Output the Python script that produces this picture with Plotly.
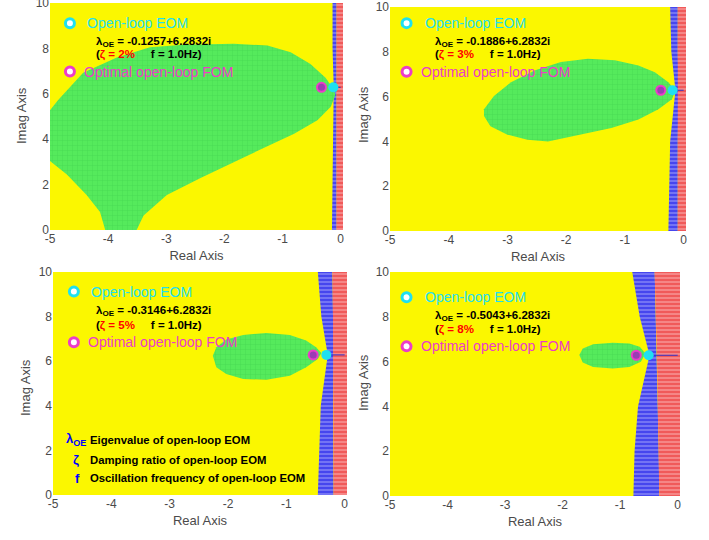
import plotly.graph_objects as go

# ------------------------------------------------------------------ data
eom_real = [-0.1257, -0.1886, -0.3146, -0.5043]
eom_imag = 6.2832
zeta_labels = ["2%", "3%", "5%", "8%"]
freq_label = "1.0Hz"
fom_real = [-0.33, -0.39, -0.54, -0.72]

x_tick_vals = [-5, -4, -3, -2, -1, 0]
x_tick_text = ["-5", "-4", "-3", "-2", "-1", "0"]
y_tick_vals = [0, 2, 4, 6, 8, 10]
y_tick_text = ["0", "2", "4", "6", "8", "10"]

# green (optimal) region boundaries
tl_green_x = [-5.0, -4.86, -4.43, -3.85, -3.28, -2.70, -1.84, -1.26, -0.86, -0.52, -0.26, -0.115, -0.09,
              -0.17, -0.40, -0.80, -1.55, -2.41, -2.99, -3.39, -3.51, -4.05, -4.14, -4.37, -4.71, -5.0]
tl_green_y = [5.28, 5.73, 6.93, 7.60, 8.05, 8.16, 8.20, 8.13, 7.83, 7.31, 6.71, 6.18, 5.96,
              5.43, 4.84, 4.24, 3.34, 2.29, 1.54, 0.64, 0.0, 0.0, 0.79, 1.54, 2.44, 3.04]
tr_green_x = [-3.40, -3.23, -2.94, -2.54, -2.09, -1.63, -1.17, -0.77, -0.49, -0.26, -0.14,
              -0.20, -0.43, -0.77, -1.23, -1.80, -2.31, -2.66, -3.00, -3.29, -3.40]
tr_green_y = [5.43, 6.03, 6.64, 7.16, 7.54, 7.69, 7.62, 7.39, 7.09, 6.64, 6.26,
              5.88, 5.43, 4.98, 4.60, 4.30, 4.00, 4.07, 4.30, 4.68, 5.13]
bl_green_x = [-2.26, -2.20, -2.03, -1.74, -1.34, -0.94, -0.66, -0.49, -0.40,
              -0.46, -0.66, -0.94, -1.34, -1.74, -2.03, -2.20]
bl_green_y = [6.25, 6.63, 6.97, 7.18, 7.27, 7.18, 6.93, 6.63, 6.37,
              6.10, 5.73, 5.35, 5.17, 5.20, 5.43, 5.73]
br_green_x = [-1.71, -1.65, -1.47, -1.13, -0.84, -0.66, -0.56, -0.64, -0.84, -1.13, -1.47, -1.65]
br_green_y = [6.29, 6.59, 6.77, 6.84, 6.81, 6.66, 6.36, 5.99, 5.76, 5.69, 5.76, 5.96]

# unstable-side bands (blue / red) left edges at these imag values
band_y = [0.0, 2.0, 4.0, 6.2832, 8.0, 10.0]
tl_blue_left = [-0.15, -0.14, -0.14, -0.12, -0.14, -0.14]
tl_red_left = [-0.07, -0.07, -0.07, -0.06, -0.07, -0.07]
tr_blue_left = [-0.26, -0.25, -0.23, -0.14, -0.21, -0.23]
tr_red_left = [-0.10, -0.10, -0.10, -0.09, -0.10, -0.10]
bl_blue_left = [-0.46, -0.44, -0.41, -0.29, -0.40, -0.46]
bl_red_left = [-0.19, -0.19, -0.20, -0.19, -0.20, -0.21]
br_blue_left = [-0.77, -0.75, -0.69, -0.49, -0.66, -0.79]
br_red_left = [-0.32, -0.33, -0.35, -0.36, -0.38, -0.40]

green_x = [tl_green_x, tr_green_x, bl_green_x, br_green_x]
green_y = [tl_green_y, tr_green_y, bl_green_y, br_green_y]
blue_left = [tl_blue_left, tr_blue_left, bl_blue_left, br_blue_left]
red_left = [tl_red_left, tr_red_left, bl_red_left, br_red_left]

legend_symbols = ["λ<sub>OE</sub>", "ζ", "f"]
legend_texts = ["Eigenvalue of open-loop EOM", "Damping ratio of open-loop EOM",
                "Oscillation frequency of open-loop EOM"]

# ------------------------------------------------------------------ style
X_MIN, X_MAX = -5, 0.04
Y_MIN, Y_MAX = 0, 10
FONT = "Liberation Sans, Arial, sans-serif"
YELLOW = "#fbf700"
CYAN = "#1fe0f0"
MAGENTA = "#ec3cc8"
GRAY = "#4a4a4a"
W, H = 709, 540

# panel pixel boxes: (left, right, top, bottom)
boxes = [(50, 343, 3, 230), (390, 686, 7, 231), (53, 347, 272, 495), (390, 680, 272, 496)]
# y-title centres (pixels)
ytitle_px = [(22, 116), (363, 115), (25, 388), (363, 383)]
# text block positions (domain fractions): marker x, eom text x, value-lines x, fom text x, row ys
txt_pos = [
    dict(mx=0.068, tx=0.119, lx=0.150, fx=0.109, y=[0.911, 0.828, 0.771, 0.698]),
    dict(mx=0.056, tx=0.112, lx=0.146, fx=0.099, y=[0.928, 0.845, 0.786, 0.711]),
    dict(mx=0.071, tx=0.124, lx=0.141, fx=0.112, y=[0.912, 0.826, 0.762, 0.685]),
    dict(mx=0.057, tx=0.115, lx=0.149, fx=0.101, y=[0.887, 0.804, 0.744, 0.668]),
]

fig = go.Figure()
layout = dict(width=W, height=H, margin=dict(l=0, r=0, t=0, b=0, autoexpand=False),
              paper_bgcolor="white", plot_bgcolor=YELLOW, showlegend=False,
              font=dict(family=FONT))
annotations = []
shapes = []

for i in range(4):
    sfx = "" if i == 0 else str(i + 1)
    xa, ya = "x" + sfx, "y" + sfx
    L, R, T, B = boxes[i]
    layout["xaxis" + sfx] = dict(
        domain=[L / W, R / W], range=[X_MIN, X_MAX], anchor=ya, automargin=False,
        tickvals=x_tick_vals, ticktext=x_tick_text, showgrid=False, zeroline=False,
        showline=False, ticks="", tickfont=dict(size=12, color=GRAY),
        ticklabeloverflow="allow",
        title=dict(text="Real Axis", font=dict(size=13, color=GRAY), standoff=5))
    layout["yaxis" + sfx] = dict(
        domain=[1 - B / H, 1 - T / H], range=[Y_MIN, Y_MAX], anchor=xa, automargin=False,
        tickvals=y_tick_vals, ticktext=y_tick_text, showgrid=False, zeroline=False,
        showline=False, ticks="", tickfont=dict(size=12, color=GRAY),
        ticklabeloverflow="allow")
    # y-axis title as rotated text
    annotations.append(dict(xref="paper", yref="paper", x=ytitle_px[i][0] / W,
                            y=1 - ytitle_px[i][1] / H, xanchor="center", yanchor="middle",
                            textangle=-90, text="Imag Axis", showarrow=False,
                            font=dict(size=13, color=GRAY)))

    # blue band
    bx = blue_left[i] + red_left[i][::-1]
    by = band_y + band_y[::-1]
    fig.add_trace(go.Scatter(x=bx + [bx[0]], y=by + [by[0]], mode="lines", fill="toself",
                             line=dict(width=0, color="#4646ee"), fillcolor="#4646ee",
                             fillpattern=dict(shape="-", bgcolor="#4646ee", fgcolor="#c8c8ff",
                                              size=4, solidity=0.35),
                             xaxis=xa, yaxis=ya, hoverinfo="skip"))
    # red band
    rx = red_left[i] + [X_MAX] * len(band_y)
    ry = band_y + band_y[::-1]
    fig.add_trace(go.Scatter(x=rx + [rx[0]], y=ry + [ry[0]], mode="lines", fill="toself",
                             line=dict(width=0, color="#f05a5a"), fillcolor="#f05a5a",
                             fillpattern=dict(shape="-", bgcolor="#f05a5a", fgcolor="#ffd6d6",
                                              size=4, solidity=0.35),
                             xaxis=xa, yaxis=ya, hoverinfo="skip"))
    # green region
    gx, gy = green_x[i], green_y[i]
    fig.add_trace(go.Scatter(x=gx + [gx[0]], y=gy + [gy[0]], mode="lines", fill="toself",
                             line=dict(width=0, color="#55ea5c"), fillcolor="#55ea5c",
                             fillpattern=dict(shape="+", bgcolor="#55ea5c", fgcolor="#3ccc4c",
                                              size=5, solidity=0.2),
                             xaxis=xa, yaxis=ya, hoverinfo="skip"))
    # horizontal line through EOM inside bands
    fig.add_trace(go.Scatter(x=[eom_real[i], 0], y=[eom_imag, eom_imag], mode="lines",
                             line=dict(width=1, color="#3232c8"), xaxis=xa, yaxis=ya,
                             hoverinfo="skip"))
    # FOM and EOM points
    fig.add_trace(go.Scatter(x=[fom_real[i]], y=[eom_imag], mode="markers",
                             marker=dict(size=9, color="#9a3cb4", line=dict(width=2, color=MAGENTA)),
                             xaxis=xa, yaxis=ya, hoverinfo="skip"))
    fig.add_trace(go.Scatter(x=[eom_real[i]], y=[eom_imag], mode="markers",
                             marker=dict(size=10, color=CYAN, line=dict(width=0)),
                             xaxis=xa, yaxis=ya, hoverinfo="skip"))

    p = txt_pos[i]
    xd, yd = xa + " domain", ya + " domain"
    for yy, col in [(p["y"][0], CYAN), (p["y"][3], MAGENTA)]:
        shapes.append(dict(type="circle", xref=xd, yref=yd, xsizemode="pixel", ysizemode="pixel",
                           xanchor=p["mx"], yanchor=yy, x0=-4.5, x1=4.5, y0=-4.5, y1=4.5,
                           fillcolor="white", line=dict(color=col, width=3)))
    annotations.append(dict(xref=xd, yref=yd, x=p["tx"], y=p["y"][0], xanchor="left", yanchor="middle",
                            text="Open-loop EOM", showarrow=False, font=dict(size=14, color=CYAN)))
    annotations.append(dict(xref=xd, yref=yd, x=p["lx"], y=p["y"][1], xanchor="left", yanchor="middle",
                            align="left",
                            text="<b>λ<sub>OE</sub> = %.4f+%.4fi</b>" % (eom_real[i], eom_imag),
                            showarrow=False, font=dict(size=11.5, color="black")))
    annotations.append(dict(xref=xd, yref=yd, x=p["lx"], y=p["y"][2], xanchor="left", yanchor="middle",
                            align="left",
                            text="<b>(<span style='color:#ff0000'>ζ = %s</span>"
                                 "&nbsp;&nbsp;&nbsp;&nbsp;&nbsp;f = %s)</b>"
                                 % (zeta_labels[i], freq_label),
                            showarrow=False, font=dict(size=11.5, color="black")))
    annotations.append(dict(xref=xd, yref=yd, x=p["fx"], y=p["y"][3], xanchor="left", yanchor="middle",
                            text="Optimal open-loop FOM", showarrow=False,
                            font=dict(size=14, color=MAGENTA)))

# explanation block in lower-left panel
sym_x = [0.036, 0.078, 0.082]
sym_y = [0.247, 0.157, 0.076]
for k in range(3):
    annotations.append(dict(xref="x3 domain", yref="y3 domain", x=sym_x[k],
                            y=sym_y[k], xanchor="left" if k == 0 else "center", yanchor="middle",
                            text="<b>%s</b>" % legend_symbols[k], showarrow=False,
                            font=dict(size=13, color="#0000ff")))
    annotations.append(dict(xref="x3 domain", yref="y3 domain", x=0.118, y=sym_y[k],
                            xanchor="left", yanchor="middle", text="<b>%s</b>" % legend_texts[k],
                            showarrow=False, font=dict(size=11.3, color="black")))

layout["annotations"] = annotations
layout["shapes"] = shapes
fig.update_layout(**layout)
fig.write_html("out.html", config={"displayModeBar": False},
               post_script="document.body.style.margin='0';document.body.style.padding='0';")
